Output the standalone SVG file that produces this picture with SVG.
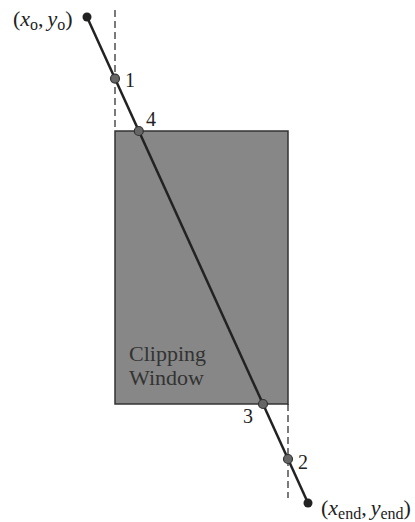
<svg xmlns="http://www.w3.org/2000/svg" width="415" height="522" viewBox="0 0 415 522">
<style>
text{font-family:"Liberation Serif","Times New Roman",serif;fill:#222;font-size:20px}
.it{font-style:italic}
.co{font-size:22px}
.sub{font-size:16px}
.lbl{font-size:22px;fill:#333}
.dash{stroke:#222;stroke-width:1.2;stroke-dasharray:7,4;fill:none}
.ep{fill:#222}
.ip{fill:#666;stroke:#333;stroke-width:1.2}
</style>
<rect width="415" height="522" fill="#fff"/>
<g id="window">
<rect x="115" y="131" width="173" height="273" fill="#878787" stroke="#333" stroke-width="1.5"/>
<text class="lbl" x="129" y="361">Clipping</text>
<text class="lbl" x="129" y="385">Window</text>
</g>
<g id="connectors">
<line class="dash" x1="115" y1="10" x2="115" y2="131"/>
<line class="dash" x1="288" y1="404" x2="288" y2="498"/>
<line x1="87" y1="17" x2="308" y2="503" stroke="#222" stroke-width="2.5"/>
</g>
<g id="p0"><circle class="ep" cx="87" cy="17" r="4.5"/>
<text class="co" x="13" y="26">(<tspan class="it">x</tspan><tspan class="sub" dy="4">o</tspan><tspan dy="-4">,</tspan><tspan class="it" dx="4">y</tspan><tspan class="sub" dy="4">o</tspan><tspan dy="-4">)</tspan></text></g>
<g id="p1"><circle class="ip" cx="115" cy="78.6" r="4.5"/><text x="125" y="87">1</text></g>
<g id="p4"><circle class="ip" cx="138.8" cy="131" r="4.5"/><text x="146" y="126">4</text></g>
<g id="p3"><circle class="ip" cx="263" cy="404" r="4.5"/><text x="243" y="423">3</text></g>
<g id="p2"><circle class="ip" cx="288" cy="459" r="4.5"/><text x="298" y="469">2</text></g>
<g id="pend"><circle class="ep" cx="308" cy="503" r="4.5"/>
<text class="co" x="321" y="515">(<tspan class="it">x</tspan><tspan class="sub" dy="4">end</tspan><tspan dy="-4">,</tspan><tspan class="it" dx="4">y</tspan><tspan class="sub" dy="4">end</tspan><tspan dy="-4">)</tspan></text></g>
</svg>
